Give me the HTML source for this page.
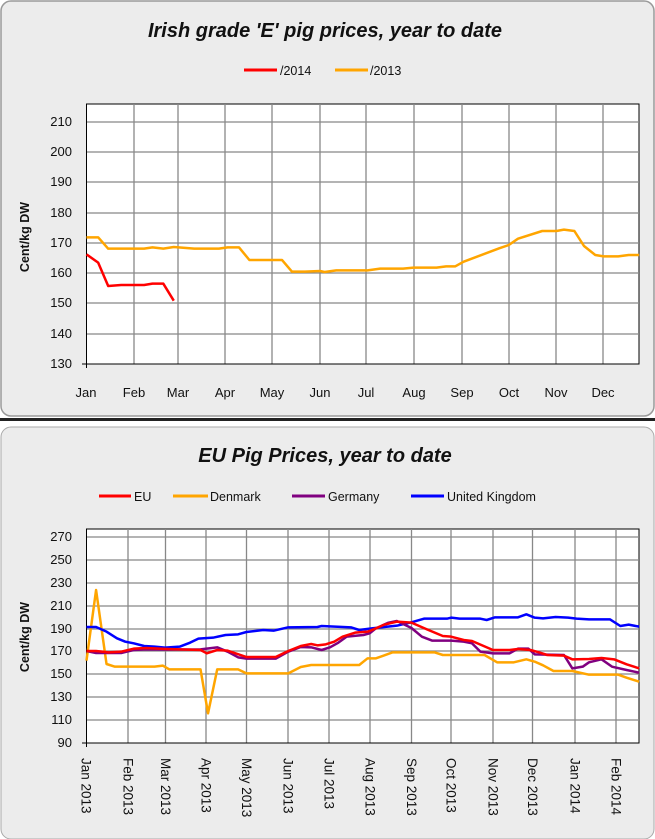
<!DOCTYPE html>
<html><head><meta charset="utf-8"><style>
html,body{margin:0;padding:0;background:#fff;}
svg{display:block;}
text{font-family:"Liberation Sans",sans-serif;fill:#111;}
.t{font-size:13px;}
.l{font-size:12.5px;}
.r{font-size:13.5px;}
</style></head><body>
<svg width="655" height="839" viewBox="0 0 655 839" xmlns="http://www.w3.org/2000/svg">
<rect x="0" y="0" width="655" height="839" fill="#fff"/>
<rect x="1" y="1" width="653" height="415" rx="10" fill="#ececec" stroke="#9a9a9a" stroke-width="1.5"/>
<rect x="0" y="418" width="655" height="3" fill="#222"/>
<rect x="1" y="427" width="653" height="412" rx="10" fill="#ececec" stroke="#aaa" stroke-width="1"/>

<text x="325" y="37" text-anchor="middle" font-size="20" font-style="italic" font-weight="bold">Irish grade 'E' pig prices, year to date</text>
<line x1="244" y1="70" x2="277" y2="70" stroke="#f00" stroke-width="3"/>
<text x="280" y="75" class="l">/2014</text>
<line x1="335" y1="70" x2="368" y2="70" stroke="#ffa500" stroke-width="3"/>
<text x="370" y="75" class="l">/2013</text>

<rect x="86.5" y="104" width="552.5" height="260" fill="#fff" stroke="#000" stroke-width="1"/>
<g stroke="#888" stroke-width="1.3">
<line x1="86.5" x2="639" y1="122" y2="122"/><line x1="86.5" x2="639" y1="152" y2="152"/><line x1="86.5" x2="639" y1="182" y2="182"/><line x1="86.5" x2="639" y1="213" y2="213"/><line x1="86.5" x2="639" y1="243" y2="243"/><line x1="86.5" x2="639" y1="273" y2="273"/><line x1="86.5" x2="639" y1="303" y2="303"/><line x1="86.5" x2="639" y1="334" y2="334"/>
<line y1="104" y2="364" x1="134" x2="134"/><line y1="104" y2="364" x1="178" x2="178"/><line y1="104" y2="364" x1="225" x2="225"/><line y1="104" y2="364" x1="272" x2="272"/><line y1="104" y2="364" x1="320" x2="320"/><line y1="104" y2="364" x1="366" x2="366"/><line y1="104" y2="364" x1="414" x2="414"/><line y1="104" y2="364" x1="462" x2="462"/><line y1="104" y2="364" x1="509" x2="509"/><line y1="104" y2="364" x1="556" x2="556"/><line y1="104" y2="364" x1="603" x2="603"/>
</g>
<line x1="86.5" y1="104" x2="86.5" y2="368" stroke="#000"/>
<line x1="82" y1="364" x2="639" y2="364" stroke="#000"/>
<g class="t" text-anchor="end">
<text x="72" y="126">210</text><text x="72" y="156">200</text><text x="72" y="186">190</text><text x="72" y="217">180</text><text x="72" y="247">170</text><text x="72" y="277">160</text><text x="72" y="307">150</text><text x="72" y="338">140</text><text x="72" y="368">130</text>
</g>
<g class="t" text-anchor="middle">
<text x="86" y="397">Jan</text><text x="134" y="397">Feb</text><text x="178" y="397">Mar</text><text x="225" y="397">Apr</text><text x="272" y="397">May</text><text x="320" y="397">Jun</text><text x="366" y="397">Jul</text><text x="414" y="397">Aug</text><text x="462" y="397">Sep</text><text x="509" y="397">Oct</text><text x="556" y="397">Nov</text><text x="603" y="397">Dec</text>
</g>
<text transform="translate(29,237) rotate(-90)" text-anchor="middle" font-size="12.5" font-weight="bold">Cent/kg DW</text>

<g transform="scale(0.41773,0.33333)" fill="none" stroke-linejoin="round">
<polyline vector-effect="non-scaling-stroke" stroke="#ffa500" stroke-width="2.5" points="207,712 235,712 259,746 345,746 365,742 391,746 416,741 465,746 524,746 545,742 572,742 597,780 675,780 699,815 730,815 766,813 777,816 805,811 880,811 910,806 965,806 990,803 1045,803 1068,799 1090,799 1110,785 1195,745 1218,735 1240,716 1298,693 1332,693 1350,689 1375,693 1398,738 1425,765 1445,769 1480,769 1505,765 1530,765"/>
<polyline vector-effect="non-scaling-stroke" stroke="#f00" stroke-width="2.5" points="207,763 235,788 259,858 290,855 345,855 365,851 391,851 416,902"/>
</g>

<text x="325" y="462" text-anchor="middle" font-size="20" font-style="italic" font-weight="bold">EU Pig Prices, year to date</text>
<line x1="99" y1="496" x2="131" y2="496" stroke="#f00" stroke-width="3"/><text x="134" y="501" class="l">EU</text>
<line x1="173" y1="496" x2="208" y2="496" stroke="#ffa500" stroke-width="3"/><text x="210" y="501" class="l">Denmark</text>
<line x1="292" y1="496" x2="325" y2="496" stroke="#800080" stroke-width="3"/><text x="328" y="501" class="l">Germany</text>
<line x1="411" y1="496" x2="444" y2="496" stroke="#00f" stroke-width="3"/><text x="447" y="501" class="l">United Kingdom</text>

<rect x="86.5" y="529" width="552.5" height="214" fill="#fff" stroke="#000" stroke-width="1"/>
<g stroke="#888" stroke-width="1.3">
<line x1="86.5" x2="639" y1="537" y2="537"/><line x1="86.5" x2="639" y1="560" y2="560"/><line x1="86.5" x2="639" y1="583" y2="583"/><line x1="86.5" x2="639" y1="606" y2="606"/><line x1="86.5" x2="639" y1="629" y2="629"/><line x1="86.5" x2="639" y1="651" y2="651"/><line x1="86.5" x2="639" y1="674" y2="674"/><line x1="86.5" x2="639" y1="697" y2="697"/><line x1="86.5" x2="639" y1="720" y2="720"/>
<line y1="529" y2="743" x1="128" x2="128"/><line y1="529" y2="743" x1="165.5" x2="165.5"/><line y1="529" y2="743" x1="206" x2="206"/><line y1="529" y2="743" x1="246.5" x2="246.5"/><line y1="529" y2="743" x1="288" x2="288"/><line y1="529" y2="743" x1="329" x2="329"/><line y1="529" y2="743" x1="370" x2="370"/><line y1="529" y2="743" x1="411.5" x2="411.5"/><line y1="529" y2="743" x1="451" x2="451"/><line y1="529" y2="743" x1="493" x2="493"/><line y1="529" y2="743" x1="532.5" x2="532.5"/><line y1="529" y2="743" x1="575" x2="575"/><line y1="529" y2="743" x1="616" x2="616"/>
</g>
<line x1="86.5" y1="529" x2="86.5" y2="747" stroke="#000"/>
<line x1="82" y1="743" x2="639" y2="743" stroke="#000"/>
<g class="t" text-anchor="end">
<text x="72" y="541">270</text><text x="72" y="564">250</text><text x="72" y="587">230</text><text x="72" y="610">210</text><text x="72" y="633">190</text><text x="72" y="655">170</text><text x="72" y="678">150</text><text x="72" y="701">130</text><text x="72" y="724">110</text><text x="72" y="747">90</text>
</g>
<g class="r">
<text transform="translate(81.5,758) rotate(90)">Jan 2013</text>
<text transform="translate(123.5,758) rotate(90)">Feb 2013</text>
<text transform="translate(161,758) rotate(90)">Mar 2013</text>
<text transform="translate(201.5,758) rotate(90)">Apr 2013</text>
<text transform="translate(242,758) rotate(90)">May 2013</text>
<text transform="translate(283.5,758) rotate(90)">Jun 2013</text>
<text transform="translate(324.5,758) rotate(90)">Jul 2013</text>
<text transform="translate(365.5,758) rotate(90)">Aug 2013</text>
<text transform="translate(407,758) rotate(90)">Sep 2013</text>
<text transform="translate(446.5,758) rotate(90)">Oct 2013</text>
<text transform="translate(488.5,758) rotate(90)">Nov 2013</text>
<text transform="translate(528,758) rotate(90)">Dec 2013</text>
<text transform="translate(570.5,758) rotate(90)">Jan 2014</text>
<text transform="translate(611.5,758) rotate(90)">Feb 2014</text>
</g>
<text transform="translate(29,637) rotate(-90)" text-anchor="middle" font-size="12.5" font-weight="bold">Cent/kg DW</text>

<g transform="translate(0,420) scale(0.41773,0.33333)" fill="none" stroke-linejoin="round">
<polyline vector-effect="non-scaling-stroke" stroke="#ffa500" stroke-width="2.5" points="207,722 230,510 255,732 275,740 370,740 390,737 405,748 480,748 498,880 520,748 570,748 590,760 690,760 720,741 745,735 860,735 880,715 900,715 940,697 1040,697 1060,705 1160,705 1190,727 1230,727 1260,718 1280,725 1300,736 1325,753 1370,753 1410,764 1480,764 1500,773 1530,785"/>
<polyline vector-effect="non-scaling-stroke" stroke="#00f" stroke-width="2.5" points="207,621 230,621 255,635 280,655 300,665 320,670 345,678 370,680 395,683 430,680 455,668 475,656 510,653 540,645 570,643 590,636 630,630 655,632 690,622 760,621 770,618 840,622 860,630 890,625 950,617 985,607 1015,596 1070,596 1080,593 1100,596 1150,596 1165,600 1185,592 1240,592 1260,583 1280,593 1300,595 1330,591 1360,593 1380,596 1410,598 1460,598 1485,618 1505,614 1530,620"/>
<polyline vector-effect="non-scaling-stroke" stroke="#800080" stroke-width="2.5" points="207,693 230,699 290,699 320,690 350,688 400,689 480,688 520,682 545,695 570,712 590,716 660,716 690,695 720,681 745,682 770,690 790,682 810,668 830,650 870,645 885,640 900,625 930,608 950,603 985,624 1010,650 1035,662 1080,662 1110,665 1130,670 1150,695 1180,700 1220,700 1240,686 1265,686 1280,703 1350,705 1370,745 1395,740 1410,727 1440,718 1465,740 1500,750 1530,758"/>
<polyline vector-effect="non-scaling-stroke" stroke="#f00" stroke-width="2.5" points="207,693 230,693 260,697 290,695 320,686 350,684 400,687 430,688 480,690 495,700 520,690 545,692 590,711 660,711 690,693 720,678 745,672 760,676 780,673 800,665 820,650 850,638 880,635 900,625 920,614 950,605 985,608 1020,627 1060,648 1080,650 1110,660 1130,663 1180,690 1220,690 1240,687 1270,690 1290,697 1310,705 1350,707 1370,718 1410,717 1440,714 1470,718 1500,733 1530,745"/>
</g>
</svg>
</body></html>
